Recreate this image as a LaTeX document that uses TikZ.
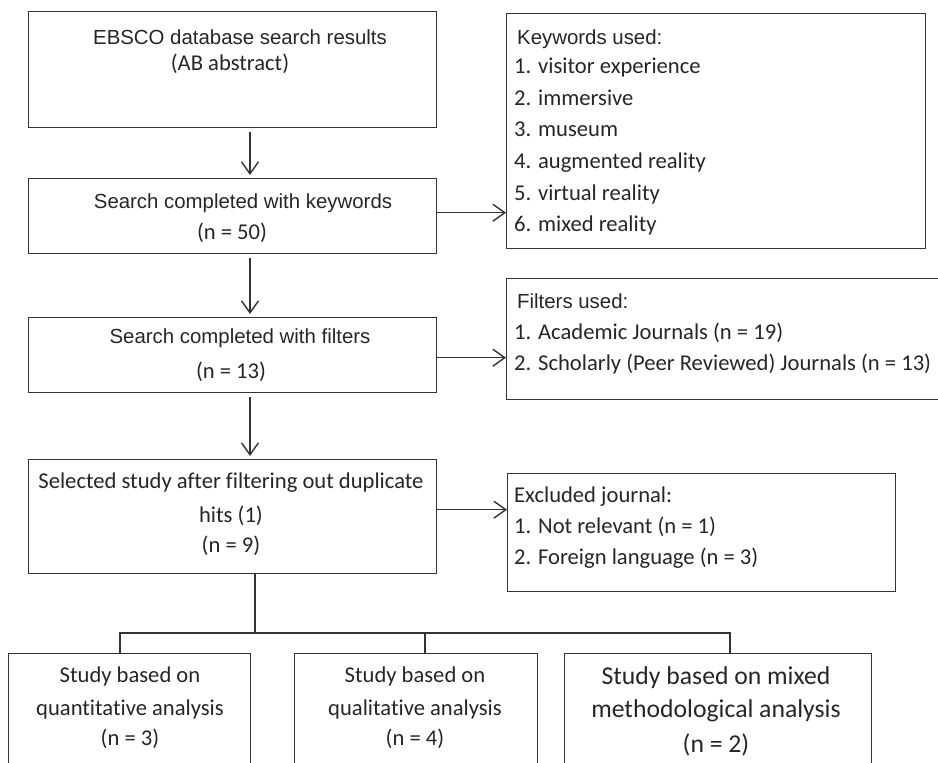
\documentclass[tikz,border=0pt]{standalone}
\usepackage{fontspec}
\newfontfamily\arialfont{Liberation Sans}
\newfontfamily\calibfont[Ligatures=NoCommon]{Carlito}
\usetikzlibrary{arrows.meta}
\newcommand{\txtA}{\arialfont\fontsize{20.4}{24}\selectfont}
\newcommand{\txtB}{\calibfont\fontsize{22.6}{27}\selectfont}
\newcommand{\txtC}{\calibfont\fontsize{25.7}{30}\selectfont}

\begin{document}
\begin{tikzpicture}[x=1pt,y=-1pt,
  box/.style={draw=black!80, line width=1.4pt, anchor=north west, inner sep=0},
  ln/.style={anchor=base, inner sep=0, text=black!85},
  lnw/.style={anchor=base west, inner sep=0, text=black!85},
  link/.style={draw=black!80, line width=1.4pt},
  arr/.style={link, -{Straight Barb[length=12pt,width=17pt]}}]
  \useasboundingbox (0,0) rectangle (938,763);
  \clip (0,0) rectangle (938,763);
  \node[box, minimum width=408pt, minimum height=116pt] (ebsco) at (28,11) {};
  \node[box, minimum width=408pt, minimum height=75pt] (kwds) at (28,178) {};
  \node[box, minimum width=408pt, minimum height=75pt] (filt) at (28,317) {};
  \node[box, minimum width=408pt, minimum height=114pt] (sel) at (28,459) {};
  \node[box, minimum width=419pt, minimum height=235pt] (kwlist) at (506,13) {};
  \node[box, minimum width=444pt, minimum height=121pt] (fltlist) at (506,278) {};
  \node[box, minimum width=388pt, minimum height=118pt] (exlist) at (507,473) {};
  \node[box, minimum width=242pt, minimum height=130pt] (quan) at (8,653) {};
  \node[box, minimum width=243pt, minimum height=130pt] (qual) at (294,653) {};
  \node[box, minimum width=307pt, minimum height=130pt] (mixd) at (564,653) {};
  \node[ln] (ebscoA) at (240,44) {\txtA EBSCO database search results};
  \node[ln] (ebscoB) at (230,70) {\txtB (AB abstract)};
  \node[ln] (kwdsA) at (243,208) {\txtA Search completed with keywords};
  \node[ln] (kwdsB) at (232,239) {\txtB (n = 50)};
  \node[ln] (filtA) at (240,343) {\txtA Search completed with filters};
  \node[ln] (filtB) at (231,378) {\txtB (n = 13)};
  \node[ln] (selA) at (231,488) {\txtB Selected study after filtering out duplicate};
  \node[ln] (selB) at (231,522) {\txtB hits (1)};
  \node[ln] (selC) at (231,552) {\txtB (n = 9)};
  \node[lnw] (kwhead) at (517,44) {\txtA Keywords used:};
  \foreach \i/\y/\t in {1/73/visitor experience, 2/105/immersive, 3/136/museum,
                        4/168/augmented reality, 5/200/virtual reality, 6/231/mixed reality}
    \node[lnw] (kw\i) at (514,\y) {\txtB \i. \t};
  \node[lnw] (flhead) at (517,308) {\txtA Filters used:};
  \node[lnw] (fl1) at (514,339) {\txtB 1. Academic Journals (n = 19)};
  \node[lnw] (fl2) at (514,370) {\txtB 2. Scholarly (Peer Reviewed) Journals (n = 13)};
  \node[lnw] (exhead) at (514,502) {\txtB Excluded journal:};
  \node[lnw] (ex1) at (514,533) {\txtB 1. Not relevant (n = 1)};
  \node[lnw] (ex2) at (514,564) {\txtB 2. Foreign language (n = 3)};
  \node[ln] (quanA) at (130,682) {\txtB Study based on};
  \node[ln] (quanB) at (130,715) {\txtB quantitative analysis};
  \node[ln] (quanC) at (130,745) {\txtB (n = 3)};
  \node[ln] (qualA) at (415,682) {\txtB Study based on};
  \node[ln] (qualB) at (415,715) {\txtB qualitative analysis};
  \node[ln] (qualC) at (415,745) {\txtB (n = 4)};
  \node[ln] (mixdA) at (716,684) {\txtC Study based on mixed};
  \node[ln] (mixdB) at (716,717) {\txtC methodological analysis};
  \node[ln] (mixdC) at (716,752) {\txtC (n = 2)};
  \coordinate (ax) at (250,0);
  \draw[arr, shorten <=4pt, shorten >=3pt] (ebsco.south -| ax) -- (kwds.north -| ax);
  \draw[arr, shorten <=4pt, shorten >=3pt] (kwds.south -| ax) -- (filt.north -| ax);
  \draw[arr, shorten <=4pt, shorten >=3pt] (filt.south -| ax) -- (sel.north -| ax);
  \draw[arr] ([yshift=3.5pt]kwds.east) -- ([yshift=3.5pt]kwds.east -| kwlist.west);
  \draw[arr] ([yshift=-2.5pt]filt.east) -- ([yshift=-2.5pt]filt.east -| fltlist.west);
  \draw[arr] ([yshift=7pt]sel.east) -- ([yshift=7pt]sel.east -| exlist.west);
  \coordinate (tr) at (255,633);
  \coordinate (q1) at (120,633);
  \coordinate (q2) at (425,633);
  \coordinate (q3) at (730,633);
  \draw[link] (sel.south -| tr) -- (tr);
  \draw[link] (quan.north -| q1) -- (q1) -- (q3) -- (mixd.north -| q3);
  \draw[link] (qual.north -| q2) -- (q2);
\end{tikzpicture}
\end{document}
